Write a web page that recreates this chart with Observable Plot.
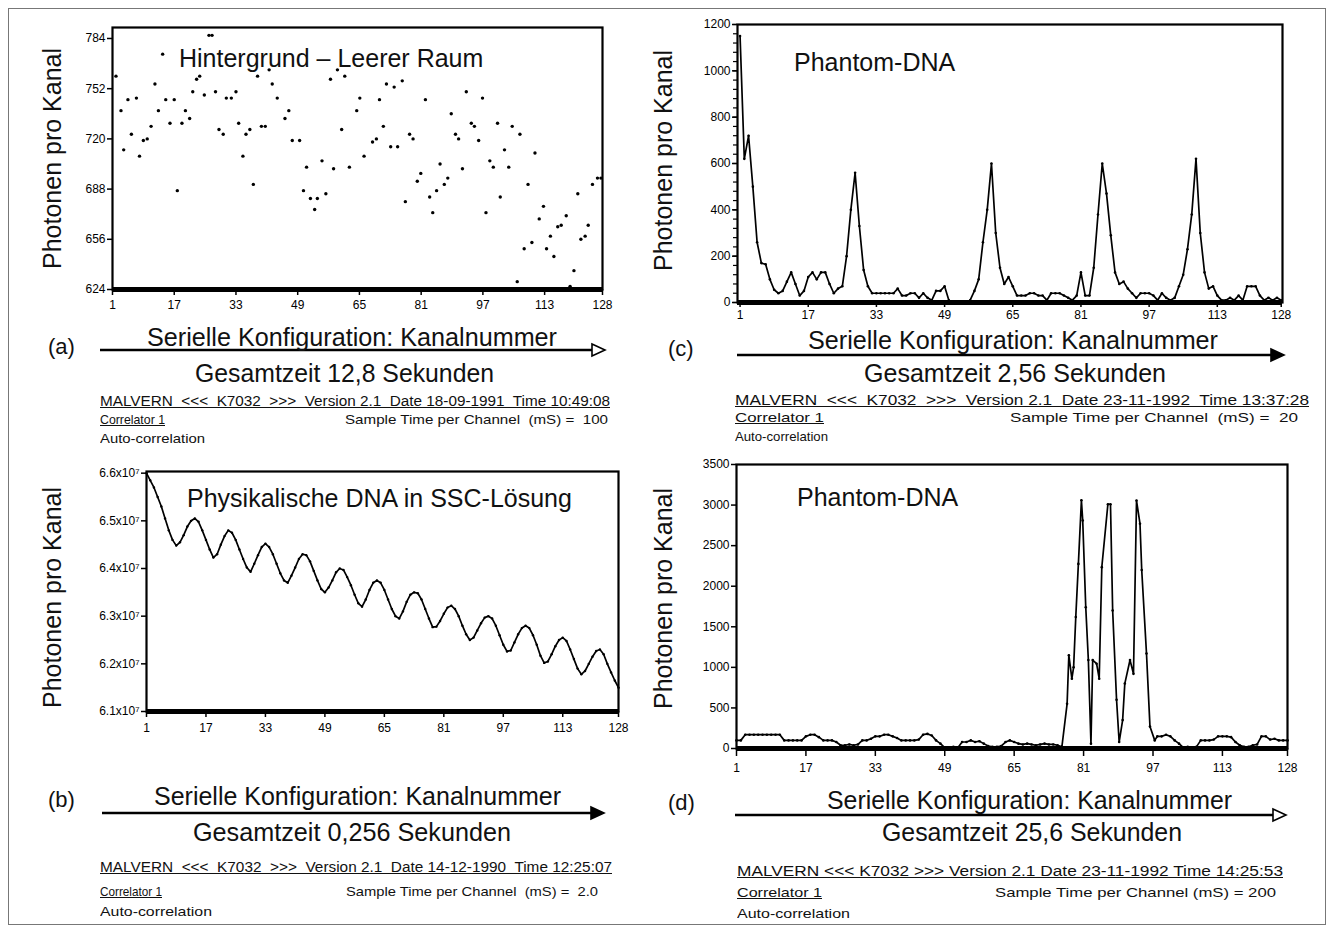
<!DOCTYPE html>
<html><head><meta charset="utf-8">
<script src="https://cdn.jsdelivr.net/npm/d3@7"></script>
<script src="https://cdn.jsdelivr.net/npm/@observablehq/plot@0.6"></script>
<style>
html,body{margin:0;padding:0;background:#fff;}
#page{position:relative;width:1333px;height:929px;overflow:hidden;background:#fff;}
.t{position:absolute;white-space:pre;line-height:1;color:#111;font-family:'Liberation Sans',Arial,sans-serif;transform-origin:0 50%;}
</style></head><body><div id="page"></div>
<script>
// ---------- data ----------
const ticksX = [1, 17, 33, 49, 65, 81, 97, 113, 128];

// (a) Hintergrund – Leerer Raum (dots only)
const chA = [1.9,3.2,3.9,5.0,5.9,7.2,8.0,9.0,10.0,11.0,12.0,12.9,14.0,14.8,15.9,17.0,17.8,19.0,19.9,21.0,21.8,22.8,23.6,24.8,26.0,26.8,27.7,28.6,29.7,30.5,31.8,33.0,33.7,34.8,35.6,36.6,37.5,38.6,39.6,40.6,41.6,42.4,43.7,45.7,46.7,47.6,49.5,50.5,51.3,52.3,53.4,54.1,55.3,56.3,57.5,58.3,59.3,60.4,61.2,62.4,64.3,65.1,66.2,68.4,69.4,70.2,71.2,72.0,73.1,74.0,74.9,76.1,76.9,78.0,78.9,80.0,80.9,82.1,83.2,84.0,85.0,85.9,87.0,87.9,88.8,89.9,90.7,91.7,92.7,94.0,94.8,95.9,96.9,97.8,98.8,99.7,100.8,101.5,102.6,103.7,104.6,105.9,106.6,107.7,108.7,109.7,110.5,111.6,112.7,113.5,114.5,115.4,116.4,117.3,118.6,119.6,120.6,121.6,122.4,123.5,124.3,125.4,126.7,127.6];
const valA = [760,738,713,745,723,746,709,719,720,728,755,738,774,745,730,745,687,730,738,733,750,758,760,748,786,786,750,726,723,746,746,750,730,709,723,726,691,760,728,728,764,755,746,733,738,719,719,687,702,682,675,682,706,685,758,701,764,726,760,702,738,746,709,718,720,745,728,755,715,753,715,757,680,723,720,693,698,745,683,673,687,704,691,695,736,723,720,701,750,730,728,719,746,673,706,702,730,683,713,702,728,629,723,650,691,654,711,669,677,650,658,645,664,665,671,626,636,685,656,658,665,691,695,695];
const ticksYA = [624, 656, 688, 720, 752, 784];

// (b) Physikalische DNA in SSC-Lösung, values in units of 10^7, channels 1..128
const valB = [6.600,6.585,6.570,6.550,6.530,6.505,6.480,6.460,6.448,6.455,6.470,6.488,6.500,6.505,6.498,6.480,6.460,6.440,6.423,6.430,6.450,6.468,6.480,6.475,6.460,6.440,6.420,6.402,6.393,6.410,6.428,6.445,6.452,6.445,6.430,6.410,6.390,6.375,6.370,6.385,6.402,6.420,6.430,6.428,6.415,6.395,6.375,6.357,6.350,6.360,6.375,6.392,6.400,6.397,6.382,6.365,6.345,6.327,6.320,6.335,6.355,6.370,6.375,6.370,6.355,6.335,6.315,6.300,6.295,6.310,6.330,6.345,6.350,6.348,6.335,6.315,6.295,6.277,6.278,6.290,6.305,6.318,6.322,6.315,6.300,6.280,6.262,6.250,6.255,6.270,6.285,6.297,6.300,6.295,6.280,6.260,6.240,6.226,6.228,6.245,6.262,6.275,6.280,6.275,6.260,6.240,6.217,6.202,6.205,6.220,6.237,6.250,6.255,6.248,6.230,6.210,6.190,6.178,6.185,6.200,6.215,6.227,6.230,6.220,6.200,6.182,6.165,6.150];
const ticksYB = [6.1, 6.2, 6.3, 6.4, 6.5, 6.6];

// (c) Phantom-DNA, channels 1..128
const valC = [1150,620,720,500,260,170,165,100,55,40, 50,90,130,80,30,50,110,130,100,130, 130,80,40,60,70,200,400,560,330,140, 70,40,40,40,40,40,40,60,30,30, 40,40,20,40,20,10,50,50,70,10, 0,0,0,0,10,50,100,260,400,600, 300,150,80,110,70,30,30,30,40,40, 30,30,10,40,40,40,30,20,10,30, 130,30,30,150,380,600,470,290,130,80, 90,60,40,20,40,40,40,30,10,40, 20,10,20,70,120,230,380,620,300,130, 60,70,30,10,10,20,10,30,10,70, 70,70,30,10,20,10,20,10];
const ticksYC = [0, 200, 400, 600, 800, 1000, 1200];
const minorYC = [0,40,80,120,160,200,240,280,320,360,400,440,480,520,560,600,640,680,720,760,800,840,880,920,960,1000,1040,1080,1120,1160,1200];

// (d) Phantom-DNA
const chD = [1,2,3,4,5,6,7,8,9,10,11,12,13,14,15,16,17,18,19,20,21,22,23,24,25,26,27,28,29,30,31,32,33,34,35,36,37,38,39,40,41,42,43,44,45,46,47,48,49,50,51,52,53,54,55,56,57,58,59,60,61,62,63,64,65,66,67,68,69,70,71,72,73,74,75,76,
  77.2,77.6,78.3,78.7,79.2,79.8,80.5,80.8,81.5,82.1,82.7,83.1,84.0,84.6,85.2,86.6,87.2,87.7,88.6,89.2,90.0,90.5,91.7,92.5,93.2,94.0,94.4,95.5,96.3,97.4,
  98,99,100,101,102,103,104,105,106,107,108,109,110,111,112,113,114,115,116,117,118,119,120,121,122,123,124,125,126,127,128];
const valD = [100,100,170,170,170,170,170,170,170,170,170,100,100,100,100,100,150,170,170,140,100,100,100,80,40,40,50,40,50,100,100,120,150,150,170,170,150,130,100,100,100,100,110,170,180,160,100,60,10,10,20,10,80,80,100,80,90,60,30,20,20,30,80,100,80,60,50,60,50,40,50,60,50,50,40,20,
  550,1150,860,1000,1620,2275,3060,2810,1740,1090,60,1090,1045,860,2235,3010,3010,1700,600,80,350,800,1090,920,3055,2770,2200,1170,270,100,
  150,150,170,150,100,60,10,20,10,20,100,100,100,110,150,150,150,140,80,40,20,20,40,50,150,150,110,120,100,100,100];
const ticksYD = [0, 500, 1000, 1500, 2000, 2500, 3000, 3500];

// ---------- helpers ----------
const page = document.getElementById("page");
const tickFont = "'Liberation Sans Narrow','Liberation Sans',Arial,sans-serif";

function panel(o) {
  const data = o.x.map((x, i) => ({x, y: o.y[i]}));
  const marks = [
    Plot.frame({stroke: "#000", strokeWidth: 2.2}),
    Plot.ruleY([o.yDomain[0]], {stroke: "#000", strokeWidth: 5}),
    Plot.axisX({ticks: ticksX, tickSize: o.xts || 6, tickPadding: o.xtp || 4, strokeWidth: 1.5, label: null, tickFormat: d3.format("d")}),
    Plot.axisY({ticks: o.yTicks, tickSize: 5, tickPadding: 2, strokeWidth: 1.5, label: null, tickFormat: o.yFormat || d3.format("d")})
  ];
  if (o.minor) marks.push(Plot.axisY({ticks: o.minor, tickSize: 4, strokeWidth: 1.2, label: null, tickFormat: () => ""}));
  if (o.line) marks.push(Plot.line(data, {x: "x", y: "y", stroke: "#000", strokeWidth: 1.7}));
  marks.push(Plot.dot(data, {x: "x", y: "y", r: o.r, fill: "#000"}));
  const svg = Plot.plot({
    width: o.w, height: o.h,
    marginTop: o.mt, marginRight: o.mr, marginBottom: o.mb, marginLeft: o.ml,
    x: {domain: o.xDomain},
    y: {domain: o.yDomain},
    style: {fontFamily: tickFont, fontSize: "12px", color: "#000", background: "transparent", overflow: "visible"},
    marks
  });
  svg.style.position = "absolute";
  svg.style.left = o.left + "px";
  svg.style.top = o.top + "px";
  page.appendChild(svg);
}

function txt(s, o) {
  const el = document.createElement("div");
  el.className = "t";
  el.textContent = s;
  el.style.fontSize = o.size + "px";
  if (o.underline) el.style.textDecoration = "underline";
  page.appendChild(el);
  const w = el.getBoundingClientRect().width;
  const k = o.width ? o.width / w : 1;
  const W = w * k;
  const left = o.anchor === "middle" ? o.x - W / 2 : o.anchor === "end" ? o.x - W : o.x;
  el.style.left = left + "px";
  el.style.top = (o.y - 0.49 * o.size) + "px";
  el.style.transform = `scaleX(${k})`;
}

function rot(s, cx, cy, size) {
  const el = document.createElement("div");
  el.className = "t";
  el.textContent = s;
  el.style.fontSize = size + "px";
  page.appendChild(el);
  const r = el.getBoundingClientRect();
  el.style.left = (cx - r.width / 2) + "px";
  el.style.top = (cy - r.height / 2) + "px";
  el.style.transformOrigin = "50% 50%";
  el.style.transform = "rotate(-90deg)";
}

// ---------- panels ----------
const idx = valB.map((_, i) => i + 1);
panel({left: 40, top: 10, w: 580, h: 310, mt: 17, mr: 18, mb: 31, ml: 72, xts: 6, xtp: 5,
  x: chA, y: valA, xDomain: [1, 128], yDomain: [624, 791], yTicks: ticksYA, r: 1.7});
panel({left: 40, top: 455, w: 600, h: 290, mt: 16, mr: 22, mb: 34, ml: 106, xts: 6, xtp: 6,
  x: idx, y: valB, xDomain: [1, 128], yDomain: [6.1, 6.6035], yTicks: ticksYB,
  yFormat: d => d.toFixed(1) + "x10\u2077", line: true, r: 1.2});
panel({left: 660, top: 10, w: 650, h: 320, mt: 14, mr: 28, mb: 28, ml: 77, xts: 5, xtp: 3,
  x: idx, y: valC, xDomain: [0.4, 128.3], yDomain: [0, 1200], yTicks: ticksYC, minor: minorYC, line: true, r: 1.3});
panel({left: 660, top: 450, w: 650, h: 320, mt: 14, mr: 23, mb: 22, ml: 76, xts: 8, xtp: 7,
  x: chD, y: valD, xDomain: [1, 128], yDomain: [0, 3500], yTicks: ticksYD, line: true, r: 1.3});

// ---------- overlay: border and arrows ----------
const ov = d3.select(page).append("svg")
  .attr("width", 1333).attr("height", 929)
  .style("position", "absolute").style("left", 0).style("top", 0).style("pointer-events", "none");
ov.append("rect").attr("x", 8.5).attr("y", 8.5).attr("width", 1317).attr("height", 916)
  .attr("fill", "none").attr("stroke", "#777").attr("stroke-width", 1);
function arrow(x1, x2, y, open) {
  const hx = x2 - 13;
  ov.append("line").attr("x1", x1).attr("x2", open ? hx : hx + 2).attr("y1", y).attr("y2", y)
    .attr("stroke", "#000").attr("stroke-width", 2.6);
  ov.append("polygon").attr("points", `${hx},${y - 6} ${x2},${y} ${hx},${y + 6}`)
    .attr("fill", open ? "#fff" : "#000").attr("stroke", "#000").attr("stroke-width", 1.6);
}
arrow(100, 605, 350, true);
arrow(737, 1284, 355, false);
arrow(102, 604, 813, false);
arrow(735, 1286, 815, true);

// ---------- texts ----------
const yt = "Photonen pro Kanal";
rot(yt, 52, 158, 25);
rot(yt, 52, 597, 25);
rot(yt, 664, 160, 25);
rot(yt, 664, 598, 25);

txt("Hintergrund \u2013 Leerer Raum", {x: 179, y: 58, size: 25});
txt("Phantom-DNA", {x: 794, y: 62, size: 25});
txt("Physikalische DNA in SSC-L\u00f6sung", {x: 187, y: 498, size: 25});
txt("Phantom-DNA", {x: 797, y: 497, size: 25});

txt("(a)", {x: 48, y: 347, size: 22});
txt("(c)", {x: 668, y: 349, size: 22});
txt("(b)", {x: 48, y: 800, size: 22});
txt("(d)", {x: 668, y: 803, size: 22});

const ser = "Serielle Konfiguration: Kanalnummer";
txt(ser, {x: 352, y: 337, size: 25, anchor: "middle", width: 410});
txt(ser, {x: 1013, y: 340, size: 25, anchor: "middle", width: 410});
txt(ser, {x: 357, y: 796, size: 25, anchor: "middle", width: 407});
txt(ser, {x: 1029, y: 800, size: 25, anchor: "middle", width: 405});

txt("Gesamtzeit 12,8 Sekunden", {x: 344, y: 373, size: 25, anchor: "middle", width: 299});
txt("Gesamtzeit 2,56 Sekunden", {x: 1015, y: 373, size: 25, anchor: "middle", width: 302});
txt("Gesamtzeit 0,256 Sekunden", {x: 352, y: 832, size: 25, anchor: "middle", width: 318});
txt("Gesamtzeit 25,6 Sekunden", {x: 1032, y: 832, size: 25, anchor: "middle", width: 300});

txt("MALVERN  <<<  K7032  >>>  Version 2.1  Date 18-09-1991  Time 10:49:08", {x: 100, y: 401, size: 14, width: 510, underline: true});
txt("MALVERN  <<<  K7032  >>>  Version 2.1  Date 23-11-1992  Time 13:37:28", {x: 735, y: 400, size: 14, width: 574, underline: true});
txt("MALVERN  <<<  K7032  >>>  Version 2.1  Date 14-12-1990  Time 12:25:07", {x: 100, y: 867, size: 14, width: 512, underline: true});
txt("MALVERN <<< K7032 >>> Version 2.1 Date 23-11-1992 Time 14:25:53", {x: 737, y: 871, size: 14, width: 546, underline: true});

txt("Correlator 1", {x: 100, y: 419, size: 13, width: 65, underline: true});
txt("Correlator 1", {x: 735, y: 417, size: 13, width: 89, underline: true});
txt("Correlator 1", {x: 100, y: 891, size: 13, width: 62, underline: true});
txt("Correlator 1", {x: 737, y: 892, size: 13, width: 85, underline: true});

txt("Sample Time per Channel  (mS) =  100", {x: 608, y: 419, size: 13, anchor: "end", width: 263});
txt("Sample Time per Channel  (mS) =  20", {x: 1298, y: 417, size: 13, anchor: "end", width: 288});
txt("Sample Time per Channel  (mS) =  2.0", {x: 598, y: 891, size: 13, anchor: "end", width: 252});
txt("Sample Time per Channel (mS) = 200", {x: 1276, y: 892, size: 13, anchor: "end", width: 281});

txt("Auto-correlation", {x: 100, y: 438, size: 13, width: 105});
txt("Auto-correlation", {x: 735, y: 436, size: 13, width: 93});
txt("Auto-correlation", {x: 100, y: 911, size: 13, width: 112});
txt("Auto-correlation", {x: 737, y: 913, size: 13, width: 113});
</script></body></html>
